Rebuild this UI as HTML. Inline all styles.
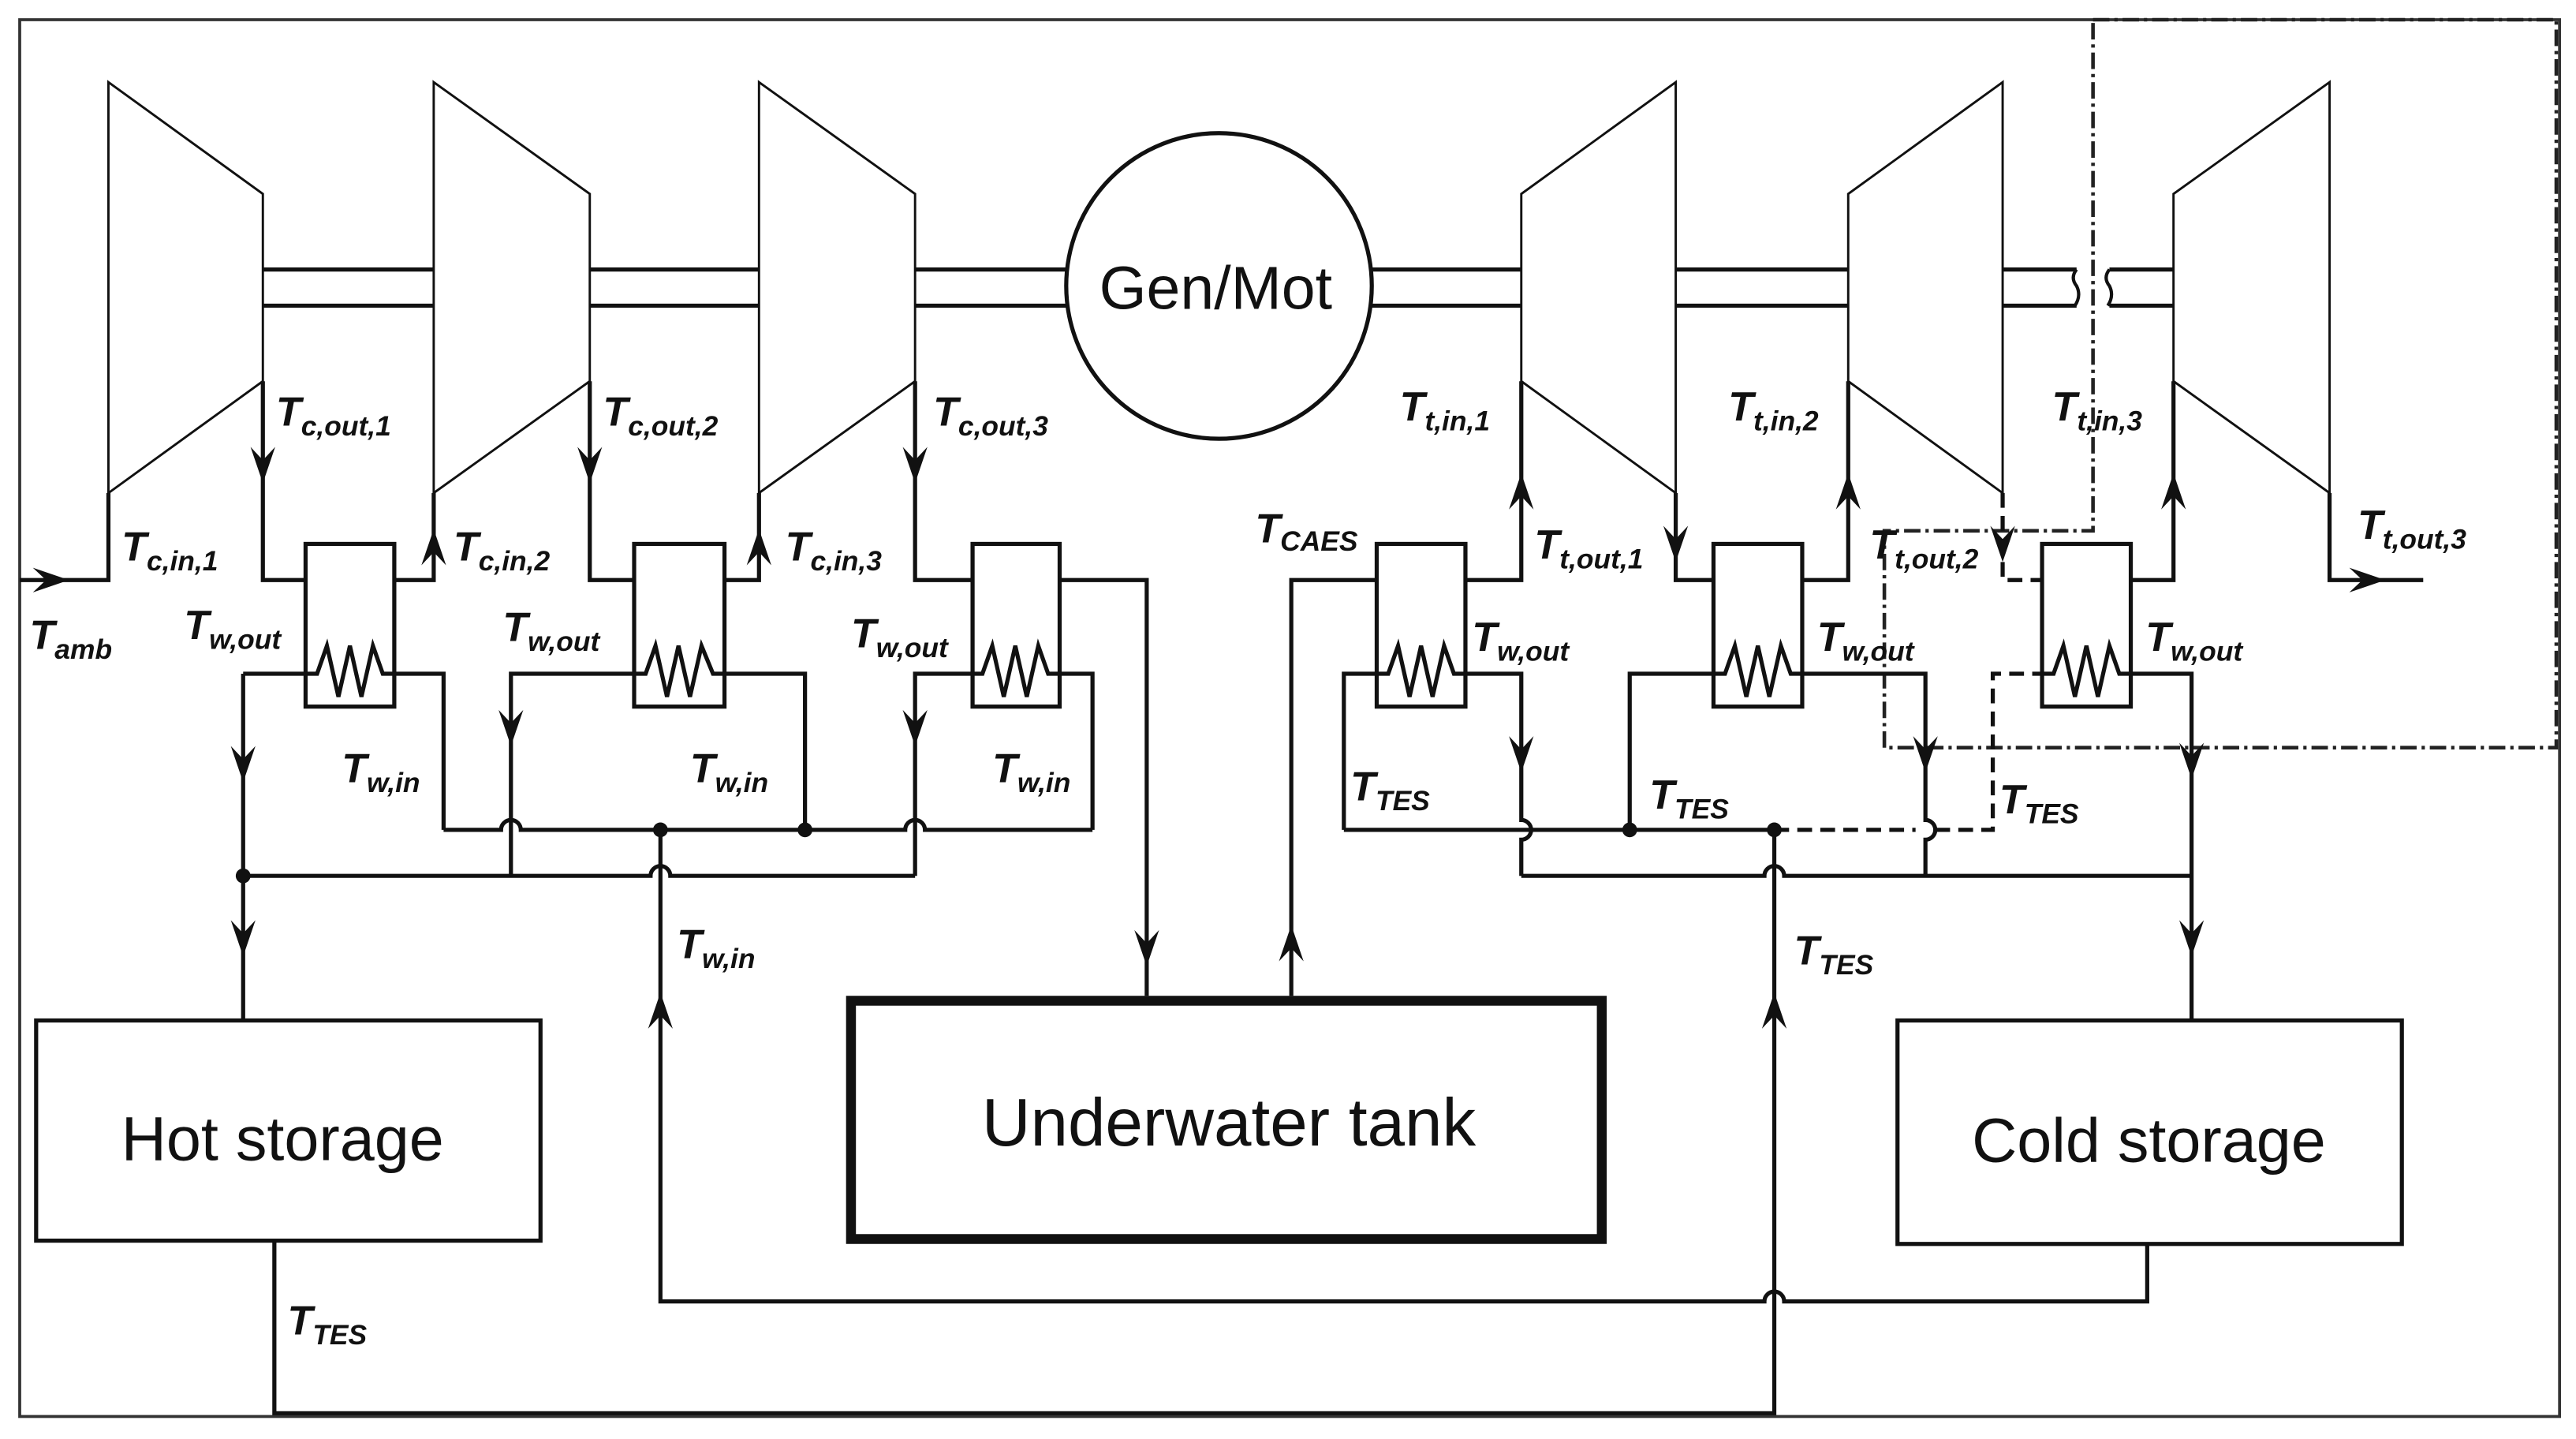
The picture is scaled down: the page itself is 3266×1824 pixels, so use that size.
<!DOCTYPE html>
<html><head><meta charset="utf-8"><style>
html,body{margin:0;padding:0;background:#fff}
svg{display:block}
.l{font-family:"Liberation Sans Narrow","Liberation Sans",sans-serif;font-style:italic;font-weight:bold;font-size:25px;fill:#111}
.s{font-size:17px}
.big{font-family:"Liberation Sans",sans-serif;fill:#111}
</style></head><body>
<svg width="3266" height="1824" viewBox="0 0 1568 875.7" preserveAspectRatio="none" xmlns="http://www.w3.org/2000/svg">
<defs>
<path id="ad" d="M-7.5,-22 L0,0 L7.5,-22 L0,-14 Z" fill="#111"/>
</defs>
<rect x="0" y="0" width="1568" height="876" fill="#fff"/>
<rect x="12" y="12" width="1546" height="850" fill="none" stroke="#333" stroke-width="1.8"/>
<path d="M1274,12 H1556 V455 H1147 V323 H1274 Z" fill="none" stroke="#222" stroke-width="2.2" stroke-dasharray="10 3 2 3"/>
<g fill="none" stroke="#111" stroke-width="1.4">
<polygon points="66,50 160,118 160,232 66,300"/>
<polygon points="264,50 359,118 359,232 264,300"/>
<polygon points="462,50 557,118 557,232 462,300"/>
<polygon points="1020,50 926,118 926,232 1020,300"/>
<polygon points="1219,50 1125,118 1125,232 1219,300"/>
<polygon points="1418,50 1323,118 1323,232 1418,300"/>
</g>
<g fill="none" stroke="#111" stroke-width="2.5">
<path d="M160,164 H264 M160,186 H264 M359,164 H462 M359,186 H462 M557,164 H650 M557,186 H650"/>
<path d="M835,164 H926 M835,186 H926 M1020,164 H1125 M1020,186 H1125 M1219,164 H1264 M1219,186 H1264 M1284,164 H1323 M1284,186 H1323"/>
<path d="M1264,164 q-4,5 0,10 q3,6 -1,12 M1284,164 q-4,5 0,10 q3,6 -1,12" stroke-width="2"/>
<circle cx="742" cy="174" r="93"/>
<rect x="186" y="331" width="54" height="99"/>
<rect x="386" y="331" width="55" height="99"/>
<rect x="592" y="331" width="53" height="99"/>
<rect x="838" y="331" width="54" height="99"/>
<rect x="1043" y="331" width="54" height="99"/>
<rect x="1243" y="331" width="54" height="99"/>
<path d="M12,353 H66 V300"/>
<path d="M160,232 V353 H186 M240,353 H264 V300"/>
<path d="M359,232 V353 H386 M441,353 H462 V300"/>
<path d="M557,232 V353 H592 M645,353 H698 V606"/>
<path d="M148,410 H186 H193 L199,393 L206,424 L213,393 L220,424 L227,393 L233,410 H240 H270 V505"/>
<path d="M311,533 V410 H386 H393 L399,393 L406,424 L413,393 L420,424 L427,393 L434,410 H441 H490 V505"/>
<path d="M557,533 V410 H592 H598 L604,393 L611,424 L618,393 L625,424 L632,393 L638,410 H645 H665 V505"/>
<path d="M148,410 V621"/>
<path d="M148,533 H396 a6,6 0 0 1 12,0 H557"/>
<path d="M270,505 H305 a6,6 0 0 1 12,0 H551 a6,6 0 0 1 12,0 H665"/>
<path d="M402,505 V792 H1074 a6,6 0 0 1 12,0 H1307 V757"/>
<path d="M167,755 V860 H1080 V505"/>
<path d="M786,606 V353 H838 M892,353 H926 V232"/>
<path d="M1020,300 V353 H1043 M1097,353 H1125 V232"/>
<path d="M1219,300 V353 H1243" stroke-dasharray="9 5"/>
<path d="M1297,353 H1323 V232"/>
<path d="M1418,300 V353 H1475"/>
<path d="M818,505 V410 H838 H845 L851,393 L858,424 L865,393 L872,424 L879,393 L885,410 H892 H926 V499 a6,6 0 0 1 0,12 V533"/>
<path d="M992,505 V410 H1043 H1050 L1056,393 L1063,424 L1070,393 L1077,424 L1084,393 L1090,410 H1097 H1172 V499 a6,6 0 0 1 0,12 V533"/>
<path d="M1243,410 H1250 L1256,393 L1263,424 L1270,393 L1277,424 L1284,393 L1290,410 H1297 H1334 V621"/>
<path d="M818,505 H1080"/>
<path d="M1080,505 H1166 M1178,505 H1213 V410 H1243" stroke-dasharray="9 5"/>
<path d="M926,533 H1074 a6,6 0 0 1 12,0 H1334"/>
<rect x="22" y="621" width="307" height="134"/>
<rect x="1155" y="621" width="307" height="136"/>
<rect x="518" y="609" width="457" height="145" stroke-width="6"/>
</g>
<g fill="#111">
<circle cx="148" cy="533" r="4.5"/><circle cx="402" cy="505" r="4.5"/><circle cx="490" cy="505" r="4.5"/>
<circle cx="992" cy="505" r="4.5"/><circle cx="1080" cy="505" r="4.5"/>
</g>
<use href="#ad" transform="translate(42,353) rotate(-90)"/>
<use href="#ad" transform="translate(160,294)"/>
<use href="#ad" transform="translate(359,294)"/>
<use href="#ad" transform="translate(557,294)"/>
<use href="#ad" transform="translate(264,322) rotate(180)"/>
<use href="#ad" transform="translate(462,322) rotate(180)"/>
<use href="#ad" transform="translate(698,588)"/>
<use href="#ad" transform="translate(148,476)"/>
<use href="#ad" transform="translate(148,582)"/>
<use href="#ad" transform="translate(311,454)"/>
<use href="#ad" transform="translate(557,454)"/>
<use href="#ad" transform="translate(402,604) rotate(180)"/>
<use href="#ad" transform="translate(1080,604) rotate(180)"/>
<use href="#ad" transform="translate(786,563) rotate(180)"/>
<use href="#ad" transform="translate(926,288) rotate(180)"/>
<use href="#ad" transform="translate(1125,288) rotate(180)"/>
<use href="#ad" transform="translate(1323,288) rotate(180)"/>
<use href="#ad" transform="translate(1020,342)"/>
<use href="#ad" transform="translate(1219,342)"/>
<use href="#ad" transform="translate(1452,353) rotate(-90)"/>
<use href="#ad" transform="translate(926,470)"/>
<use href="#ad" transform="translate(1172,470)"/>
<use href="#ad" transform="translate(1334,474)"/>
<use href="#ad" transform="translate(1334,582)"/>
<text class="big" x="740" y="188" font-size="37" text-anchor="middle">Gen/Mot</text>
<text class="big" x="172" y="706" font-size="38" text-anchor="middle">Hot storage</text>
<text class="big" x="748" y="697" font-size="41" text-anchor="middle">Underwater tank</text>
<text class="big" x="1308" y="707" font-size="38" text-anchor="middle">Cold storage</text>
<g class="l">
<text x="168" y="259">T<tspan class="s" dy="6">c,out,1</tspan></text>
<text x="367" y="259">T<tspan class="s" dy="6">c,out,2</tspan></text>
<text x="568" y="259">T<tspan class="s" dy="6">c,out,3</tspan></text>
<text x="74" y="341">T<tspan class="s" dy="6">c,in,1</tspan></text>
<text x="276" y="341">T<tspan class="s" dy="6">c,in,2</tspan></text>
<text x="478" y="341">T<tspan class="s" dy="6">c,in,3</tspan></text>
<text x="18" y="395">T<tspan class="s" dy="6">amb</tspan></text>
<text x="112" y="389">T<tspan class="s" dy="6">w,out</tspan></text>
<text x="306" y="390">T<tspan class="s" dy="6">w,out</tspan></text>
<text x="518" y="394">T<tspan class="s" dy="6">w,out</tspan></text>
<text x="208" y="476">T<tspan class="s" dy="6">w,in</tspan></text>
<text x="420" y="476">T<tspan class="s" dy="6">w,in</tspan></text>
<text x="604" y="476">T<tspan class="s" dy="6">w,in</tspan></text>
<text x="412" y="583">T<tspan class="s" dy="6">w,in</tspan></text>
<text x="175" y="812">T<tspan class="s" dy="6">TES</tspan></text>
<text x="764" y="330">T<tspan class="s" dy="5">CAES</tspan></text>
<text x="852" y="256">T<tspan class="s" dy="6">t,in,1</tspan></text>
<text x="1052" y="256">T<tspan class="s" dy="6">t,in,2</tspan></text>
<text x="1249" y="256">T<tspan class="s" dy="6">t,in,3</tspan></text>
<text x="934" y="340">T<tspan class="s" dy="6">t,out,1</tspan></text>
<text x="1138" y="340">T<tspan class="s" dy="6">t,out,2</tspan></text>
<text x="1435" y="328">T<tspan class="s" dy="6">t,out,3</tspan></text>
<text x="896" y="396">T<tspan class="s" dy="6">w,out</tspan></text>
<text x="1106" y="396">T<tspan class="s" dy="6">w,out</tspan></text>
<text x="1306" y="396">T<tspan class="s" dy="6">w,out</tspan></text>
<text x="822" y="487">T<tspan class="s" dy="6">TES</tspan></text>
<text x="1004" y="492">T<tspan class="s" dy="6">TES</tspan></text>
<text x="1217" y="495">T<tspan class="s" dy="6">TES</tspan></text>
<text x="1092" y="587">T<tspan class="s" dy="6">TES</tspan></text>
</g>
</svg>
</body></html>
